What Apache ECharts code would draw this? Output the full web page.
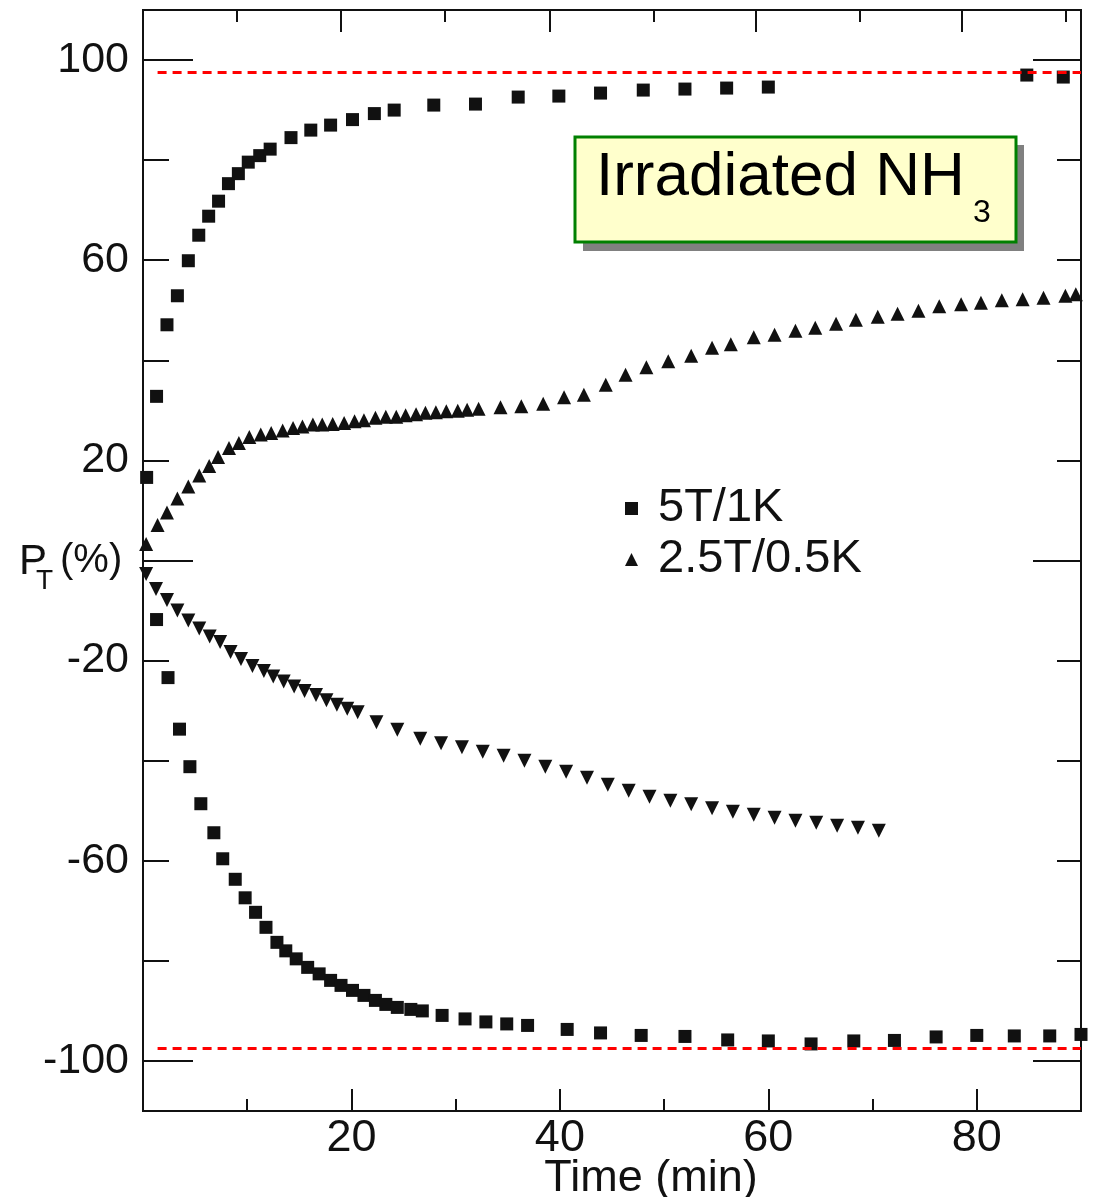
<!DOCTYPE html>
<html>
<head>
<meta charset="utf-8">
<script src="https://cdn.jsdelivr.net/npm/echarts@6/dist/echarts.min.js"></script>
<style>
html, body { margin: 0; padding: 0; background: #fff; }
#chart { width: 1096px; height: 1197px; }
</style>
</head>
<body>
<div id="chart"></div>
<script>
// 5T/1K, positive and negative polarization (time in min, P_T in %)
const squaresUp = [
  [0.35, 16.6], [1.3, 32.8], [2.3, 47.1], [3.3, 52.9], [4.35, 59.9], [5.35, 65.0],
  [6.3, 68.8], [7.25, 71.8], [8.2, 75.3], [9.15, 77.3], [10.1, 79.6], [11.2, 80.9],
  [12.2, 82.2], [14.2, 84.5], [16.1, 86.0], [18.0, 87.0], [20.1, 88.1], [22.2, 89.3],
  [24.1, 90.0], [27.9, 91.0], [31.9, 91.2], [36.0, 92.6], [39.9, 92.8], [43.9, 93.4],
  [48.0, 94.0], [52.0, 94.2], [56.0, 94.4], [60.0, 94.6], [84.8, 97.0], [88.3, 96.6]
]
const squaresDown = [
  [1.3, -11.8], [2.4, -23.4], [3.5, -33.7], [4.5, -41.2], [5.55, -48.6], [6.8, -54.4],
  [7.65, -59.6], [8.85, -63.7], [9.8, -67.4], [10.8, -70.3], [11.8, -73.3], [12.85, -76.3],
  [13.7, -78.0], [14.7, -79.6], [15.8, -81.3], [16.9, -82.6], [18.0, -83.9], [19.0, -84.9],
  [20.1, -85.9], [21.2, -86.9], [22.3, -87.9], [23.3, -88.7], [24.4, -89.3], [25.7, -89.7],
  [26.8, -90.0], [28.7, -90.9], [30.9, -91.6], [32.9, -92.2], [34.9, -92.6], [36.9, -92.9],
  [40.7, -93.7], [43.9, -94.4], [47.8, -94.9], [52.0, -95.1], [56.1, -95.8], [60.0, -96.0],
  [64.1, -96.6], [68.2, -96.0], [72.1, -95.9], [76.1, -95.2], [80.0, -94.9], [83.6, -95.0],
  [87.0, -95.0], [90.0, -94.7]
]
// 2.5T/0.5K
const trianglesUp = [
  [0.3, 3.3], [1.4, 7.1], [2.3, 9.6], [3.3, 12.4], [4.35, 14.8], [5.4, 17.0], [6.35, 18.9],
  [7.2, 20.7], [8.25, 22.5], [9.2, 23.5], [10.2, 24.7], [11.3, 25.2], [12.3, 25.5],
  [13.4, 26.0], [14.4, 26.5], [15.3, 26.8], [16.3, 27.2], [17.2, 27.2], [18.2, 27.3],
  [19.3, 27.5], [20.3, 27.8], [21.2, 28.0], [22.3, 28.5], [23.3, 28.7], [24.3, 28.7],
  [25.2, 29.0], [26.2, 29.2], [27.1, 29.5], [28.1, 29.6], [29.1, 29.8], [30.2, 29.9],
  [31.1, 30.1], [32.2, 30.3], [34.3, 30.6], [36.3, 30.8], [38.4, 31.3], [40.4, 32.6],
  [42.3, 33.1], [44.4, 35.1], [46.3, 37.1], [48.3, 38.6], [50.4, 39.8], [52.6, 40.9],
  [54.6, 42.5], [56.4, 43.2], [58.6, 44.6], [60.6, 45.1], [62.6, 45.9], [64.5, 46.5],
  [66.5, 47.3], [68.4, 48.1], [70.5, 48.7], [72.4, 49.3], [74.4, 49.9], [76.4, 50.8],
  [78.5, 51.2], [80.4, 51.5], [82.4, 52.0], [84.4, 52.2], [86.4, 52.5], [88.5, 52.9],
  [89.5, 53.2]
]
const trianglesDown = [
  [0.3, -2.7], [1.25, -5.7], [2.3, -7.9], [3.3, -10.0], [4.35, -12.0], [5.4, -13.6],
  [6.4, -15.2], [7.4, -16.3], [8.4, -18.3], [9.4, -19.7], [10.5, -21.1], [11.6, -22.1],
  [12.5, -23.2], [13.5, -24.2], [14.5, -25.2], [15.5, -26.1], [16.6, -26.9], [17.6, -27.9],
  [18.6, -28.8], [19.6, -29.6], [20.6, -30.3], [22.4, -32.3], [24.4, -33.8], [26.6, -35.6],
  [28.6, -36.5], [30.6, -37.3], [32.6, -38.2], [34.6, -39.0], [36.6, -40.0], [38.6, -41.2],
  [40.6, -42.2], [42.6, -43.4], [44.6, -44.8], [46.6, -46.0], [48.6, -47.2], [50.6, -48.0],
  [52.6, -48.7], [54.6, -49.5], [56.6, -50.2], [58.6, -50.8], [60.6, -51.4], [62.6, -52.0],
  [64.6, -52.4], [66.6, -53.0], [68.6, -53.4], [70.6, -54.0]
]
const refLevels = [97.5, -97.5]
const xLabels = [20, 40, 60, 80]
const xMinor = [10, 30, 50, 70, 90]
const xTopMajor = [19, 39, 58.8, 78.6]
const xTopMinor = [9, 29, 49, 68.8, 88.5]
const yLabels = [-100, -60, -20, 20, 60, 100]
const yShort = [-80, -60, -40, -20, 20, 40, 60, 80]
const yLong = [-100, 0, 100]

const FONT = "'Liberation Sans', Arial, Helvetica, sans-serif"
const INK = '#111'

const chart = echarts.init(document.getElementById('chart'))

function xAx(pos, ticks, len, opts) {
  return Object.assign({
    type: 'value', position: pos, min: 0, max: 90,
    axisLine: { show: true, onZero: false, lineStyle: { color: INK, width: 2 } },
    axisTick: { show: true, inside: true, length: len, customValues: ticks, lineStyle: { color: INK, width: 2 } },
    axisLabel: { show: false },
    splitLine: { show: false }
  }, opts || {})
}
function yAx(pos, ticks, len, opts) {
  return Object.assign({
    type: 'value', position: pos, min: -110, max: 110,
    axisLine: { show: true, onZero: false, lineStyle: { color: INK, width: 2 } },
    axisTick: { show: true, inside: true, length: len, customValues: ticks, lineStyle: { color: INK, width: 2 } },
    axisLabel: { show: false },
    splitLine: { show: false }
  }, opts || {})
}

const option = {
  animation: false,
  backgroundColor: '#fff',
  textStyle: { fontFamily: FONT },
  grid: { left: 143, right: 15, top: 10, bottom: 86, outerBoundsMode: 'none', containLabel: false },
  xAxis: [
    xAx('bottom', xLabels, 22, {
      name: 'Time (min)', nameLocation: 'middle', nameGap: 45, nameMoveOverlap: false,
      nameTextStyle: { fontSize: 45, color: INK, fontFamily: FONT, padding: [0, 0, 0, 78] },
      axisLabel: { show: true, customValues: xLabels, fontSize: 45, color: INK, margin: 5, fontFamily: FONT }
    }),
    xAx('bottom', xMinor, 12),
    xAx('top', xTopMajor, 22),
    xAx('top', xTopMinor, 12)
  ],
  yAxis: [
    yAx('left', yShort, 26, {
      axisLabel: { show: true, customValues: yLabels, fontSize: 43, color: INK, margin: 14, fontFamily: FONT }
    }),
    yAx('left', yLong, 50),
    yAx('right', yShort, 24),
    yAx('right', yLong, 48)
  ],
  legend: {
    orient: 'vertical', left: 620, top: 480, itemWidth: 13, itemHeight: 13, itemGap: 4,
    textStyle: { fontSize: 47, lineHeight: 46, color: INK, fontFamily: FONT, padding: [0, 0, 0, 15] },
    data: [
      { name: '5T/1K', icon: 'rect' },
      { name: '2.5T/0.5K', icon: 'triangle' }
    ]
  },
  series: [
    {
      name: '5T/1K', type: 'scatter', symbol: 'rect', symbolSize: 13,
      itemStyle: { color: INK, opacity: 1 }, data: squaresUp,
      markLine: {
        silent: true, symbol: ['none', 'none'], label: { show: false },
        lineStyle: { color: '#ff0000', type: [9, 6], width: 3, opacity: 1 },
        data: refLevels.map(v => [{ coord: [1.4, v] }, { coord: [90, v] }])
      }
    },
    { name: '5T/1K', type: 'scatter', symbol: 'rect', symbolSize: 13, itemStyle: { color: INK, opacity: 1 }, data: squaresDown },
    { name: '2.5T/0.5K', type: 'scatter', symbol: 'triangle', symbolSize: 14, itemStyle: { color: INK, opacity: 1 }, data: trianglesUp },
    { name: '2.5T/0.5K', type: 'scatter', symbol: 'triangle', symbolRotate: 180, symbolSize: 14, itemStyle: { color: INK, opacity: 1 }, data: trianglesDown }
  ],
  graphic: [
    // y axis title  P_T (%)
    { type: 'text', left: 19, top: 541, style: { text: 'P', font: '42px ' + FONT, fill: INK } },
    { type: 'text', left: 36, top: 567, style: { text: 'T', font: '28px ' + FONT, fill: INK } },
    { type: 'text', left: 60, top: 541, style: { text: '(%)', font: '40px ' + FONT, fill: INK } },
    // annotation box
    { type: 'rect', shape: { x: 583, y: 145, width: 441, height: 106 }, style: { fill: '#808080' }, z: 10 },
    { type: 'rect', shape: { x: 575, y: 137, width: 441, height: 105 }, style: { fill: '#ffffcc', stroke: '#008000', lineWidth: 3 }, z: 11 },
    { type: 'text', left: 596, top: 147, z: 12, style: { text: 'Irradiated NH', font: '62px ' + FONT, fill: '#000' } },
    { type: 'text', left: 973, top: 197, z: 12, style: { text: '3', font: '32px ' + FONT, fill: '#000' } }
  ]
}
chart.setOption(option)
</script>
</body>
</html>
